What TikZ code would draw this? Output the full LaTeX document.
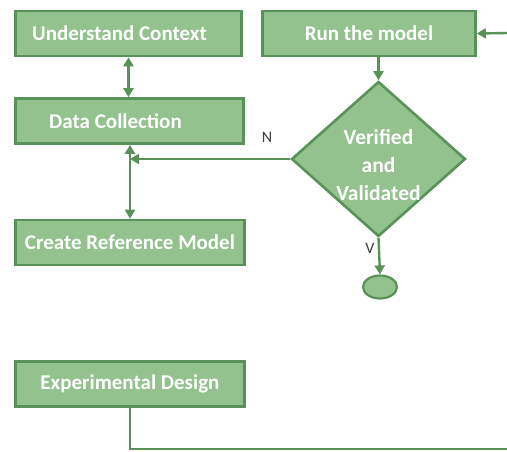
\documentclass[tikz,border=0pt]{standalone}
\usepackage{fontspec}
\setmainfont{Carlito}
\usetikzlibrary{shapes.geometric,arrows.meta}
\definecolor{gfill}{RGB}{147,194,142}
\definecolor{gdraw}{RGB}{88,146,88}
\definecolor{lblgray}{RGB}{60,60,60}
\tikzset{
  box/.style={draw=gdraw, fill=gfill, line width=2.6pt, minimum height=45pt, inner sep=0pt,
    text=white, font=\fontsize{21}{24}\selectfont\bfseries},
  dia/.style={draw=gdraw, fill=gfill, line width=2.6pt, diamond, inner sep=0pt,
    minimum width=174pt, minimum height=155pt},
  diatext/.style={text=white, align=center, inner sep=0pt, font=\fontsize{21.5}{28}\selectfont\bfseries},
  endnode/.style={draw=gdraw, fill=gfill, line width=2.2pt, ellipse, minimum width=34pt, minimum height=23pt, inner sep=0pt},
  conn/.style={draw=gdraw, line width=2.4pt},
  tip/.style={-{Triangle[length=9pt,width=10pt]}},
  lbl/.style={text=lblgray, font=\fontsize{16}{18}\selectfont, inner sep=0pt}
}
\begin{document}
\begin{tikzpicture}[x=1pt,y=-1pt]
\useasboundingbox (0,0) rectangle (507,451);
\node[box, minimum width=226pt] (uc) at (128.5,33.5) {Understand Context\hspace*{18pt}};
\node[box, minimum width=213pt] (run) at (369,33.5) {Run the model};
\node[box, minimum width=228pt] (dc) at (129.5,121) {Data Collection\hspace*{28pt}};
\node[box, minimum width=229pt] (crm) at (130,242.5) {Create Reference Model};
\node[box, minimum width=229pt] (ed) at (130,384) {Experimental Design};
\node[dia, label={[diatext, yshift=-6pt]center:Verified\\and\\Validated}] (dv) at (378.5,159) {};
\node[endnode] (fin) at (380,287) {};
\coordinate (rin) at (508,33);
\coordinate (bout) at (508,449);
\coordinate (dcx) at (130,121);
% connectors
\draw[conn, {Triangle[length=9pt,width=10pt]}-{Triangle[length=9pt,width=10pt]}] (uc.south) -- (uc.south |- dc.north);
\draw[conn, {Triangle[length=9pt,width=10pt]}-{Triangle[length=9pt,width=10pt]}] (dcx |- dc.south) -- (dcx |- crm.north);
\draw[conn, tip] (dv.west) -- (dv.west -| dcx);
\draw[conn, tip] (dv.north |- run.south) -- (dv.north);
\draw[conn, tip] (dv.south) -- (fin.north);
\draw[conn, tip] (rin) -- (run.east);
\draw[conn] (ed.south) -- (ed.south |- bout) -- (bout);
% labels
\node[lbl] (nlab) at (267,137) {N};
\node[lbl] (vlab) at (370,248) {V};
\end{tikzpicture}
\end{document}
